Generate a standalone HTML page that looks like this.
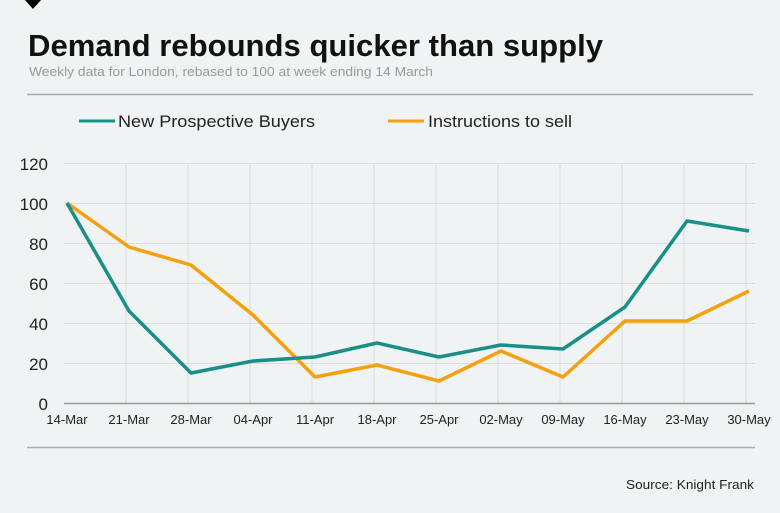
<!DOCTYPE html>
<html><head><style>
body{margin:0;background:#f0f3f3;}
svg{display:block;font-family:"Liberation Sans",sans-serif;}
</style></head><body>
<svg width="780" height="513" viewBox="0 0 780 513">
<rect width="780" height="513" fill="#f0f3f3"/>
<polygon points="25,0 41,0 33,9" fill="#000"/>
<text x="28" y="56" font-size="31" font-weight="bold" fill="#111" textLength="575" lengthAdjust="spacingAndGlyphs">Demand rebounds quicker than supply</text>
<text x="29" y="76" font-size="13" fill="#999" textLength="404" lengthAdjust="spacingAndGlyphs">Weekly data for London, rebased to 100 at week ending 14 March</text>
<line x1="27" y1="94.5" x2="753" y2="94.5" stroke="#aaa" stroke-width="1.5"/>
<line x1="79" y1="121" x2="115" y2="121" stroke="#1a8f88" stroke-width="3"/>
<text x="118" y="127" font-size="17" fill="#222" textLength="197" lengthAdjust="spacingAndGlyphs">New Prospective Buyers</text>
<line x1="388" y1="121" x2="424" y2="121" stroke="#f5a00f" stroke-width="3"/>
<text x="428" y="127" font-size="17" fill="#222" textLength="144" lengthAdjust="spacingAndGlyphs">Instructions to sell</text>
<g stroke="#dcdcdc" stroke-width="1">
<line x1="64" y1="163.5" x2="755" y2="163.5"/>
<line x1="64" y1="203.5" x2="755" y2="203.5"/>
<line x1="64" y1="243.5" x2="755" y2="243.5"/>
<line x1="64" y1="283.5" x2="755" y2="283.5"/>
<line x1="64" y1="323.5" x2="755" y2="323.5"/>
<line x1="64" y1="363.5" x2="755" y2="363.5"/>
<line x1="126" y1="163" x2="126" y2="403"/>
<line x1="188" y1="163" x2="188" y2="403"/>
<line x1="250" y1="163" x2="250" y2="403"/>
<line x1="312" y1="163" x2="312" y2="403"/>
<line x1="374" y1="163" x2="374" y2="403"/>
<line x1="436" y1="163" x2="436" y2="403"/>
<line x1="498" y1="163" x2="498" y2="403"/>
<line x1="560" y1="163" x2="560" y2="403"/>
<line x1="622" y1="163" x2="622" y2="403"/>
<line x1="684" y1="163" x2="684" y2="403"/>
<line x1="746" y1="163" x2="746" y2="403"/>
</g>
<line x1="64" y1="403.5" x2="755" y2="403.5" stroke="#999" stroke-width="1.5"/>
<g font-size="17" fill="#222" text-anchor="end">
<text x="48" y="170">120</text><text x="48" y="210">100</text><text x="48" y="250">80</text>
<text x="48" y="290">60</text><text x="48" y="330">40</text><text x="48" y="370">20</text><text x="48" y="410">0</text>
</g>
<g font-size="13" fill="#222" text-anchor="middle">
<text x="67" y="424">14-Mar</text><text x="129" y="424">21-Mar</text><text x="191" y="424">28-Mar</text>
<text x="253" y="424">04-Apr</text><text x="315" y="424">11-Apr</text><text x="377" y="424">18-Apr</text>
<text x="439" y="424">25-Apr</text><text x="501" y="424">02-May</text><text x="563" y="424">09-May</text>
<text x="625" y="424">16-May</text><text x="687" y="424">23-May</text><text x="749" y="424">30-May</text>
</g>
<polyline fill="none" stroke="#f5a00f" stroke-width="3.5" stroke-linejoin="round" points="67,203 129,247 191,265 253,315 315,377 377,365 439,381 501,351 563,377 625,321 687,321 749,291"/>
<polyline fill="none" stroke="#1a8f88" stroke-width="3.5" stroke-linejoin="round" points="67,203 129,311 191,373 253,361 315,357 377,343 439,357 501,345 563,349 625,307 687,221 749,231"/>
<line x1="27" y1="447.5" x2="755" y2="447.5" stroke="#aaa" stroke-width="1.5"/>
<text x="754" y="489" font-size="13" fill="#222" text-anchor="end" textLength="128" lengthAdjust="spacingAndGlyphs">Source: Knight Frank</text>
</svg>
</body></html>
